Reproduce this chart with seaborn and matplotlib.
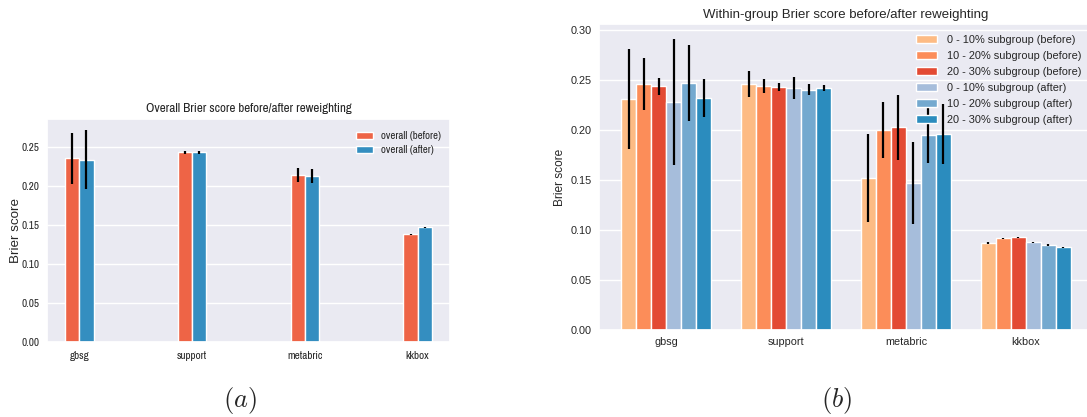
import matplotlib
matplotlib.use("Agg")
import matplotlib.pyplot as plt
from matplotlib import font_manager
import seaborn as sns
import pandas as pd

# ---------------- data ----------------
datasets = ["gbsg", "support", "metabric", "kkbox"]

# panel (a): overall Brier score
overall_labels = ["overall (before)", "overall (after)"]
overall_before = [0.2355, 0.2432, 0.2145, 0.1380]
overall_before_err = [0.0330, 0.0020, 0.0090, 0.0003]
overall_after = [0.2338, 0.2436, 0.2132, 0.1470]
overall_after_err = [0.0375, 0.0020, 0.0088, 0.0003]

# panel (b): within-group Brier score
group_labels = [
    "0 - 10% subgroup (before)",
    "10 - 20% subgroup (before)",
    "20 - 30% subgroup (before)",
    "0 - 10% subgroup (after)",
    "10 - 20% subgroup (after)",
    "20 - 30% subgroup (after)",
]
g0_before = [0.231, 0.2463, 0.152, 0.0870]
g0_before_err = [0.050, 0.013, 0.044, 0.0007]
g1_before = [0.246, 0.2437, 0.200, 0.0920]
g1_before_err = [0.026, 0.007, 0.028, 0.0005]
g2_before = [0.244, 0.2430, 0.2027, 0.0927]
g2_before_err = [0.0085, 0.004, 0.0325, 0.0005]
g0_after = [0.228, 0.2417, 0.147, 0.0877]
g0_after_err = [0.063, 0.011, 0.041, 0.0005]
g1_after = [0.247, 0.2403, 0.195, 0.0850]
g1_after_err = [0.038, 0.0055, 0.0283, 0.0007]
g2_after = [0.2317, 0.2420, 0.196, 0.0830]
g2_after_err = [0.019, 0.0033, 0.030, 0.0005]

colors_a = ["#EE6446", "#348EC0"]
colors_b = ["#fdbb84", "#fc8d59", "#e34a33", "#a6bddb", "#74a9cf", "#2b8cbe"]

# ---------------- style ----------------
sns.set_theme(style="darkgrid")
plt.rcParams["font.family"] = ["Liberation Sans", "DejaVu Sans"]
plt.rcParams["mathtext.fontset"] = "cm"

names = {f.name for f in font_manager.fontManager.ttflist}
narrow = (["Archivo Narrow"] if "Archivo Narrow" in names else []) + ["Liberation Sans", "DejaVu Sans"]

fig = plt.figure(figsize=(10.87, 4.17), dpi=100)

# ---------------- panel (a) ----------------
df_a = pd.DataFrame({
    "dataset": datasets * 2,
    "brier": overall_before + overall_after,
    "group": [overall_labels[0]] * 4 + [overall_labels[1]] * 4,
})
ax1 = fig.add_axes([47 / 1087, 75 / 417, 403 / 1087, 223 / 417])
sns.barplot(data=df_a, x="dataset", y="brier", hue="group", palette=colors_a,
            width=0.25, saturation=1, errorbar=None, legend=False, ax=ax1)
for cont, errs in zip(ax1.containers, [overall_before_err, overall_after_err]):
    for bar, e in zip(cont.patches, errs):
        ax1.errorbar(bar.get_x() + bar.get_width() / 2, bar.get_height(), yerr=e,
                     fmt="none", ecolor="black", elinewidth=1.6, capsize=0)
ax1.set_xlim(-0.2875, 3.2875)
ax1.set_ylim(0, 0.286)
ax1.set_yticks([0.0, 0.05, 0.10, 0.15, 0.20, 0.25])
ax1.set_yticklabels(["0.00", "0.05", "0.10", "0.15", "0.20", "0.25"])
ax1.set_xlabel("")
ax1.set_ylabel("Brier score", fontsize=9.6, color="#262626")
ax1.yaxis.set_label_coords(-0.062, 0.5)
ax1.set_title("Overall Brier score before/after reweighting", family=narrow,
              fontsize=9.4, color="#262626", pad=5)
for lab in ax1.get_xticklabels() + ax1.get_yticklabels():
    lab.set_family(narrow)
    lab.set_fontsize(8.0)
ax1.tick_params(axis="both", length=0)
ax1.tick_params(axis="y", pad=5.5)
ax1.tick_params(axis="x", pad=6.5)
ax1.legend(ax1.containers, overall_labels, loc="upper left", bbox_to_anchor=(0.756, 0.964),
           frameon=False, prop={"family": narrow, "size": 7.8},
           handlelength=1.6, handletextpad=0.75, labelspacing=0.35, borderaxespad=0)

# ---------------- panel (b) ----------------
vals_b = [g0_before, g1_before, g2_before, g0_after, g1_after, g2_after]
errs_b = [g0_before_err, g1_before_err, g2_before_err, g0_after_err, g1_after_err, g2_after_err]
df_b = pd.DataFrame({
    "dataset": datasets * 6,
    "brier": sum(vals_b, []),
    "group": sum([[g] * 4 for g in group_labels], []),
})
ax2 = fig.add_axes([599 / 1087, 87 / 417, 494 / 1087, 306 / 417])
sns.barplot(data=df_b, x="dataset", y="brier", hue="group", palette=colors_b,
            width=0.75, saturation=1, errorbar=None, legend=False, ax=ax2)
for cont, errs in zip(ax2.containers, errs_b):
    for bar, e in zip(cont.patches, errs):
        ax2.errorbar(bar.get_x() + bar.get_width() / 2, bar.get_height(), yerr=e,
                     fmt="none", ecolor="black", elinewidth=1.6, capsize=0)
ax2.set_xlim(-0.5625, 3.5625)
ax2.set_ylim(0, 0.306)
ax2.set_yticks([0.0, 0.05, 0.10, 0.15, 0.20, 0.25, 0.30])
ax2.set_yticklabels(["0.00", "0.05", "0.10", "0.15", "0.20", "0.25", "0.30"])
ax2.set_xlabel("")
ax2.set_ylabel("Brier score", fontsize=8.6, color="#262626")
ax2.yaxis.set_label_coords(-0.067, 0.5)
ax2.set_title("Within-group Brier score before/after reweighting",
              fontsize=9.5, color="#262626", pad=4)
for lab in ax2.get_xticklabels() + ax2.get_yticklabels():
    lab.set_fontsize(7.8)
ax2.tick_params(axis="both", length=0)
ax2.tick_params(axis="y", pad=5)
ax2.tick_params(axis="x", pad=5)
ax2.legend(ax2.containers, group_labels, loc="upper left", bbox_to_anchor=(0.633, 0.9795),
           frameon=False, fontsize=7.9, handlelength=1.9, handletextpad=0.9,
           labelspacing=0.55, borderaxespad=0)

# ---------------- captions ----------------
fig.text(240 / 1087, 1 - 401 / 417, r"$(a)$", ha="center", va="center", fontsize=19)
fig.text(837 / 1087, 1 - 401 / 417, r"$(b)$", ha="center", va="center", fontsize=19)

fig.savefig("out.png", dpi=100)
